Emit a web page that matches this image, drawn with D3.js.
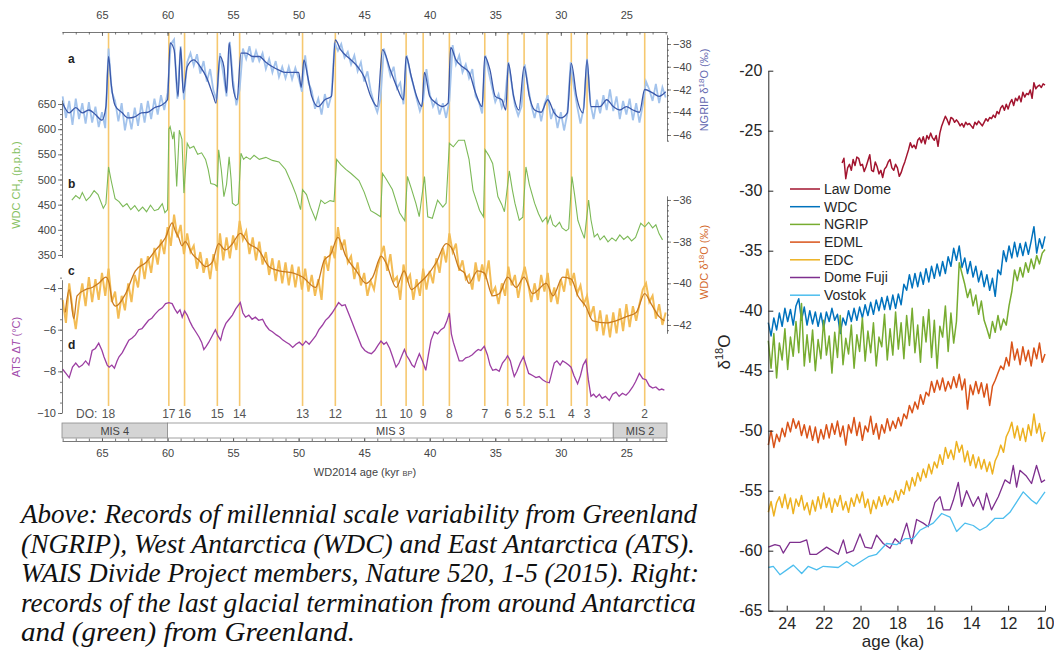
<!DOCTYPE html>
<html>
<head>
<meta charset="utf-8">
<script src="https://cdnjs.cloudflare.com/ajax/libs/d3/7.8.5/d3.min.js"></script>
<style>
  body { margin: 0; background: #fff; }
  svg { display: block; }
  .laxis path, .laxis line { stroke: #555; stroke-width: 0.8; }
  .laxis text { fill: #444; font-size: 11px; }
  .raxis path, .raxis line { stroke: #262626; stroke-width: 1; }
  .raxis text { fill: #262626; font-size: 16px; }
  .cap { font-family: "Liberation Serif", "Times New Roman", Times, serif; font-style: italic; }
</style>
</head>
<body>
<script>
// ---- left panel: WAIS Divide figure (ages in kyr BP) ----
var doLabels = ["18","17","16","15","14","13","12","11","10","9","8","7","6","5.2","5.1","4","3","2"];
var doAges = [64.5,59.9,58.7,56.2,54.5,49.7,47.2,43.7,41.8,40.5,38.5,35.8,34.05,32.8,31.05,29.2,28.0,23.6];
var misNames = ["MIS 4","MIS 3","MIS 2"];
var misBounds = [68.05,60,26,21.9];

var ngripAge = [68.0,67.5,67.0,66.5,66.0,65.5,65.0,64.7,64.5,64.3,64.0,63.5,63.0,62.5,62.0,61.5,61.0,60.5,60.0,59.8,59.5,59.2,59.0,58.8,58.5,58.0,57.5,57.0,56.5,56.3,56.0,55.7,55.5,55.3,55.0,54.7,54.4,54.0,53.5,53.0,52.5,52.0,51.5,51.0,50.5,50.0,49.8,49.6,49.3,49.0,48.5,48.0,47.5,47.2,46.8,46.0,45.5,45.0,44.5,44.0,43.6,43.0,42.5,42.0,41.8,41.4,41.0,40.6,40.4,40.0,39.5,39.0,38.6,38.4,38.0,37.5,37.0,36.5,36.0,35.8,35.4,35.0,34.5,34.2,34.0,33.6,33.2,32.8,32.4,32.0,31.5,31.0,30.5,30.0,29.5,29.2,28.8,28.3,28.0,27.7,27.0,26.5,26.0,25.5,25.0,24.5,24.0,23.6,23.0,22.5,22.0];
var ngripVal = [-43.2,-44.05,-43.6,-44.05,-43.8,-44.2,-44.7,-43.5,-39.1,-41.5,-43.4,-44.0,-44.5,-44.4,-44.05,-44.0,-43.6,-43.4,-42.9,-37.9,-38.5,-42.6,-38.3,-42.3,-40.0,-39.4,-40.0,-41.0,-42.6,-43.2,-39.1,-40.0,-42.3,-37.9,-41.8,-42.9,-38.8,-38.8,-39.1,-39.1,-39.6,-40.0,-40.3,-40.5,-40.5,-40.5,-41.8,-39.4,-40.9,-42.6,-43.5,-42.9,-42.6,-37.65,-38.5,-39.4,-40.0,-40.9,-42.6,-43.5,-38.5,-40.3,-41.8,-42.9,-39.1,-40.9,-42.6,-43.5,-40.5,-42.6,-43.2,-43.5,-43.2,-38.3,-39.4,-40.0,-40.5,-42.3,-43.5,-39.1,-40.3,-42.6,-42.9,-43.8,-39.7,-42.6,-43.8,-40.0,-42.6,-43.8,-44.0,-42.9,-44.05,-44.5,-44.05,-39.7,-42.6,-44.05,-39.4,-43.5,-43.5,-42.9,-43.5,-43.8,-43.5,-43.8,-44.0,-42.0,-42.3,-42.6,-42.2];
// raw NGRIP, every 0.25 kyr from 68.0
var ngripRawStart = 68.0, ngripRawStep = 0.25;
var ngripRaw = [-42.6,-44.5,-43.0,-45.1,-42.8,-44.6,-43.2,-45.0,-43.1,-44.9,-43.5,-45.3,-44.0,-45.4,-38.4,-42.2,
  -43.0,-44.8,-43.2,-45.6,-44.0,-45.5,-43.6,-45.2,-43.2,-44.9,-43.0,-44.6,-42.8,-44.2,-42.5,-43.8,
  -42.3,-38.0,-37.6,-42.8,-38.2,-42.9,-39.6,-38.8,-39.9,-38.9,-40.6,-39.5,-41.3,-40.2,-42.1,-42.9,
  -38.8,-40.6,-42.6,-37.8,-41.2,-43.4,-42.0,-38.4,-39.3,-38.2,-39.6,-38.6,-39.5,-38.8,-40.2,-39.3,
  -40.5,-39.5,-40.9,-40.0,-41.0,-40.0,-41.1,-40.1,-41.0,-42.2,-39.0,-41.4,-42.1,-43.7,-42.8,-44.2,
  -42.4,-43.6,-42.5,-37.9,-38.6,-38.0,-39.2,-38.7,-39.8,-39.0,-40.4,-39.6,-41.3,-40.4,-42.1,-43.2,
  -44.0,-42.8,-38.4,-39.5,-40.8,-40.0,-41.9,-41.4,-43.3,-39.0,-40.5,-41.6,-42.8,-43.9,-43.0,-40.2,
  -42.4,-43.5,-42.9,-44.2,-43.2,-44.5,-43.0,-38.1,-39.8,-39.0,-40.5,-39.8,-41.0,-40.2,-42.6,-43.1,
  -44.1,-39.0,-40.5,-41.8,-43.1,-42.4,-43.6,-42.8,-39.6,-41.5,-43.4,-44.3,-43.5,-39.8,-41.7,-43.4,
  -44.5,-43.2,-44.8,-43.3,-42.5,-44.6,-43.7,-45.4,-44.0,-45.6,-44.1,-39.6,-41.8,-43.5,-45.0,-43.6,
  -39.3,-43.2,-44.6,-42.9,-44.1,-42.5,-43.8,-42.0,-43.9,-42.6,-44.6,-43.0,-44.2,-42.8,-44.7,-43.2,
  -44.9,-43.4,-41.3,-42.0,-43.0,-41.5,-43.2,-41.8,-42.7];

var ch4Age = [67.3,67.0,66.7,66.5,66.2,65.9,65.6,65.3,64.9,64.7,64.5,64.3,64.0,63.7,63.4,63.1,62.8,62.5,62.2,61.9,61.6,61.3,61.0,60.7,60.4,60.2,60.0,59.9,59.8,59.6,59.5,59.3,59.1,58.9,58.75,58.5,58.3,58.0,57.7,57.4,57.1,56.9,56.7,56.4,56.2,56.1,55.9,55.7,55.5,55.3,55.15,55.05,54.8,54.6,54.4,54.2,54.0,53.7,53.4,53.0,52.5,52.0,51.5,51.0,50.5,50.2,49.85,49.7,49.4,49.1,48.7,48.3,48.0,47.6,47.3,47.1,46.8,46.4,46.0,45.4,45.0,44.5,44.1,43.75,43.6,43.3,42.85,42.55,42.3,41.9,41.7,41.4,41.05,40.8,40.4,40.15,39.8,39.4,39.0,38.75,38.5,38.2,37.8,37.35,37.0,36.7,36.4,36.2,35.9,35.77,35.5,35.2,34.8,34.5,34.3,33.93,33.7,33.5,33.17,32.9,32.66,32.4,32.0,31.7,31.4,31.1,31.0,30.8,30.6,30.4,30.1,29.9,29.6,29.4,29.15,28.95,28.7,28.45,28.2,27.88,27.7,27.45,27.2,27.0,26.7,26.4,26.1,25.8,25.5,25.2,24.9,24.6,24.3,23.9,23.6,23.3,23.0,22.75,22.5,22.24];
var ch4Val = [459,468,462,474,458,466,478,470,443,452,525,498,462,456,446,452,440,448,437,445,436,449,438,441,452,434,440,600,605,580,595,486,598,580,473,572,562,566,550,553,540,520,492,490,486,559,520,466,490,545,500,453,448,452,552,540,545,540,548,540,544,538,535,520,490,470,440,480,470,445,420,459,452,458,456,540,530,520,512,498,475,438,432,426,512,500,480,455,434,418,506,482,452,426,506,426,423,459,445,453,572,565,578,578,540,479,455,439,426,559,548,532,466,450,436,517,480,453,419,425,525,490,453,432,416,425,413,428,410,406,415,404,398,402,506,470,419,400,383,459,420,386,392,380,388,376,384,378,390,381,387,378,385,413,406,415,404,410,392,380];

var wdcAge = [67.8,67.5,67.15,66.9,66.25,65.75,65.25,64.7,64.45,64.2,63.95,63.2,62.45,61.65,60.9,60.15,59.65,59.4,59.15,58.9,58.65,58.1,57.6,57.1,56.6,56.1,55.6,55.05,54.45,53.8,53.05,52.25,51.5,50.45,49.7,48.7,48.05,47.55,47.0,46.4,45.6,44.85,44.35,43.7,43.35,42.55,41.95,41.4,40.8,40.3,39.5,38.75,38.25,37.75,37.35,37.0,36.35,35.85,35.2,34.7,34.05,33.4,32.8,32.15,31.1,30.6,29.85,29.2,28.7,28.1,27.55,26.55,25.8,25.0,24.25,23.6,23.1,22.5,22.1];
var wdcVal = [-41.4,-40.3,-41.7,-40.6,-40.3,-40.2,-40.0,-39.7,-40.0,-40.9,-41.1,-40.5,-39.4,-39.0,-38.4,-37.8,-37.1,-37.5,-37.8,-38.2,-38.0,-38.6,-38.9,-39.2,-39.0,-38.1,-38.4,-38.1,-37.6,-38.1,-38.4,-39.2,-39.4,-39.5,-39.7,-40.2,-38.9,-38.6,-37.8,-38.7,-39.4,-40.0,-39.7,-38.7,-39.0,-40.2,-39.4,-40.3,-40.0,-39.7,-39.0,-38.1,-38.4,-39.3,-39.5,-40.0,-39.4,-39.5,-40.6,-40.5,-39.7,-40.2,-39.7,-40.5,-40.0,-40.6,-39.7,-39.8,-40.6,-41.1,-41.8,-41.9,-41.8,-41.6,-41.4,-40.5,-41.0,-41.6,-41.8];
// raw WDC d18O, every 0.25 kyr from 68.0
var wdcRawStart = 68.0, wdcRawStep = 0.25;
var wdcRaw = [-40.8,-41.9,-40.0,-41.2,-42.2,-40.9,-40.0,-41.1,-39.7,-40.9,-39.8,-40.8,-39.5,-40.6,-39.3,-40.9,
  -40.4,-41.7,-40.6,-41.3,-40.0,-40.9,-39.6,-40.2,-38.8,-39.8,-38.7,-39.5,-38.3,-39.1,-37.9,-38.6,
  -37.3,-38.2,-36.7,-37.8,-37.2,-38.6,-37.6,-38.5,-38.2,-39.3,-38.5,-39.5,-38.8,-39.8,-38.6,-39.4,
  -37.6,-38.9,-37.8,-38.8,-37.7,-38.4,-37.0,-37.9,-37.5,-38.6,-37.8,-38.9,-38.0,-39.1,-38.5,-39.6,
  -38.8,-39.9,-38.9,-40.0,-39.0,-40.1,-39.1,-40.2,-39.2,-40.3,-39.3,-40.4,-39.6,-40.6,-39.8,-40.8,
  -38.7,-39.4,-38.2,-38.8,-37.3,-38.4,-37.9,-39.0,-38.7,-39.8,-39.0,-40.1,-39.5,-40.6,-39.9,-40.3,
  -39.3,-38.7,-38.2,-39.4,-38.6,-39.9,-39.7,-40.8,-39.1,-39.9,-39.6,-40.8,-39.8,-40.6,-39.3,-40.3,
  -39.4,-40.0,-38.8,-39.5,-38.3,-39.0,-37.6,-38.5,-38.1,-39.4,-38.9,-39.8,-39.6,-40.3,-39.0,-39.9,
  -39.1,-39.8,-38.9,-40.5,-40.2,-41.0,-40.0,-40.6,-39.2,-40.1,-39.6,-40.7,-39.8,-39.2,-40.0,-40.9,
  -40.0,-40.8,-39.6,-40.4,-39.5,-40.9,-40.2,-41.0,-39.8,-40.4,-39.3,-40.1,-39.5,-40.5,-40.1,-41.0,
  -40.6,-41.6,-41.1,-42.3,-41.3,-42.5,-41.5,-42.6,-41.4,-42.4,-41.2,-42.3,-41.0,-42.1,-41.1,-41.8,
  -41.0,-40.3,-40.0,-40.9,-40.6,-41.7,-41.0,-42.0,-41.4];

var atsAge = [68.0,67.75,67.5,67.25,67.0,66.75,66.5,66.25,66.0,65.75,65.5,65.25,65.0,64.85,64.6,64.45,64.25,64.05,63.85,63.7,63.45,63.2,62.95,62.7,62.45,62.2,61.95,61.7,61.45,61.2,60.95,60.65,60.4,60.15,59.9,59.65,59.45,59.25,59.05,58.88,58.7,58.5,58.3,58.1,57.85,57.6,57.4,57.23,57.05,56.85,56.6,56.35,56.15,55.95,55.75,55.55,55.3,55.05,54.8,54.45,54.25,54.05,53.8,53.55,53.3,53.05,52.75,52.5,52.25,52.0,51.7,51.45,51.2,50.95,50.7,50.45,50.2,49.95,49.7,49.45,49.2,48.95,48.7,48.45,48.2,47.95,47.7,47.45,47.2,46.95,46.7,46.45,46.2,45.95,45.7,45.45,45.2,44.95,44.7,44.45,44.2,43.95,43.72,43.5,43.3,43.05,42.83,42.57,42.35,42.1,41.93,41.75,41.55,41.35,41.17,40.98,40.79,40.55,40.3,40.1,39.9,39.65,39.4,39.14,38.9,38.7,38.5,38.35,38.2,38.0,37.75,37.5,37.25,36.99,36.75,36.5,36.3,36.1,35.84,35.6,35.4,35.2,34.95,34.7,34.45,34.2,34.06,33.85,33.7,33.55,33.35,33.1,32.85,32.65,32.45,32.15,31.9,31.65,31.39,31.15,30.88,30.7,30.5,30.3,30.05,29.86,29.6,29.4,29.22,29.0,28.72,28.5,28.3,28.08,27.9,27.7,27.5,27.3,27.06,26.85,26.6,26.3,26.05,25.79,25.55,25.3,25.03,24.8,24.52,24.3,24.01,23.75,23.5,23.25,22.99,22.75,22.5,22.3,22.1];
var atsVal = [-7.9,-8.1,-8.3,-7.8,-7.6,-7.8,-7.7,-7.5,-7.7,-7.0,-6.9,-6.65,-7.0,-7.3,-7.7,-7.8,-7.7,-7.85,-7.5,-7.3,-7.1,-6.8,-6.5,-6.4,-6.25,-6.0,-5.95,-5.75,-5.55,-5.45,-5.25,-5.05,-4.95,-4.75,-4.7,-4.75,-5.0,-5.2,-5.05,-5.4,-5.1,-5.3,-5.6,-5.85,-6.1,-6.35,-6.6,-6.95,-6.8,-6.6,-6.3,-6.0,-6.3,-6.5,-6.0,-5.7,-5.5,-5.3,-5.0,-4.7,-5.2,-5.4,-5.3,-5.5,-5.4,-5.55,-5.5,-5.8,-6.0,-6.1,-6.25,-6.35,-6.5,-6.6,-6.7,-6.85,-6.7,-6.6,-6.75,-6.55,-6.7,-6.5,-6.3,-6.0,-5.8,-5.55,-5.4,-5.2,-4.95,-4.7,-4.85,-4.8,-5.2,-5.6,-6.0,-6.4,-6.8,-7.0,-7.1,-7.15,-7.0,-6.75,-6.55,-6.7,-6.6,-6.9,-7.3,-7.8,-7.6,-7.2,-6.95,-7.25,-7.45,-7.7,-7.8,-7.45,-7.15,-7.5,-7.95,-7.2,-6.5,-6.1,-6.2,-6.0,-5.9,-5.6,-5.2,-6.2,-6.6,-7.0,-7.5,-7.5,-7.35,-7.3,-7.2,-7.05,-6.95,-7.0,-6.8,-7.2,-7.7,-7.95,-7.9,-8.0,-7.6,-7.4,-7.25,-7.5,-7.9,-8.25,-8.0,-7.6,-7.3,-7.7,-8.1,-8.2,-8.3,-8.25,-8.4,-8.5,-8.55,-8.1,-7.6,-7.5,-7.7,-7.5,-7.6,-7.7,-7.8,-8.2,-8.6,-8.2,-7.7,-7.45,-8.4,-9.2,-9.1,-9.25,-9.1,-9.3,-9.2,-9.4,-9.1,-9.0,-9.2,-9.05,-9.15,-9.0,-8.75,-8.5,-8.1,-8.35,-8.4,-8.7,-8.8,-8.75,-8.9,-8.85,-8.9];

// ---- right panel: last glacial termination (ages in ka) ----
var seriesNames = ["Law Dome","WDC","NGRIP","EDML","EDC","Dome Fuji","Vostok"];
var seriesColors = ["#a2142f","#0072bd","#77ac30","#d95319","#edb120","#7e2f8e","#4dbeee"];
var lawStart = 21.0, lawStep = 0.1;
var lawDome = [-27.7,-27.3,-29.0,-28.1,-27.8,-28.3,-27.4,-27.9,-27.2,-27.3,
  -27.9,-27.8,-28.4,-28.0,-27.5,-27.0,-28.3,-28.4,-27.6,-28.0,
  -28.6,-28.3,-28.9,-28.2,-28.0,-27.6,-27.4,-28.1,-28.3,-27.8,
  -28.1,-28.8,-28.5,-28.0,-27.6,-27.1,-26.6,-26.0,-26.4,-26.2,
  -26.5,-25.8,-25.6,-26.0,-25.5,-26.1,-25.4,-25.7,-25.2,-25.6,
  -25.8,-25.4,-26.3,-25.2,-24.6,-24.2,-23.8,-24.1,-24.5,-23.9,
  -24.0,-24.3,-24.1,-24.3,-24.6,-24.4,-24.7,-24.3,-24.5,-24.4,
  -24.6,-24.8,-24.3,-24.5,-24.2,-24.4,-24.6,-24.3,-24.0,-24.2,
  -23.9,-24.0,-23.7,-23.9,-23.4,-23.6,-23.1,-22.9,-23.3,-22.8,
  -23.2,-22.7,-22.4,-22.9,-22.3,-22.5,-22.1,-22.6,-21.8,-22.2,
  -21.9,-22.0,-21.6,-22.3,-21.0,-21.5,-21.3,-21.2,-21.4,-21.1,-21.2];
// WDC, NGRIP, EDML and EDC every 0.15 ka from 25.0
var coreStart = 25.0, coreStep = 0.15;
var wdcR = [-41.0,-42.1,-40.6,-41.6,-40.2,-41.3,-39.8,-40.9,-39.9,-41.2,
  -39.6,-39.0,-40.8,-39.7,-41.2,-40.0,-41.1,-40.1,-41.3,-40.2,
  -41.5,-40.1,-40.9,-39.8,-40.8,-40.3,-41.9,-40.6,-41.2,-40.0,
  -40.9,-39.8,-40.8,-39.7,-40.6,-39.5,-40.4,-39.3,-40.3,-39.1,
  -40.0,-38.9,-39.9,-38.8,-39.9,-38.7,-39.8,-38.6,-39.5,-37.8,
  -38.3,-37.0,-38.1,-36.9,-38.0,-36.8,-37.8,-36.5,-37.6,-36.3,
  -37.3,-36.1,-37.1,-35.9,-36.9,-35.5,-36.3,-34.8,-35.8,-34.6,
  -36.4,-35.6,-36.9,-35.9,-37.2,-36.3,-37.6,-36.7,-38.0,-37.0,
  -38.3,-37.3,-38.8,-36.6,-37.0,-35.0,-35.9,-34.6,-35.6,-34.3,
  -35.5,-34.4,-35.4,-34.3,-35.3,-34.2,-33.0,-35.2,-34.0,-34.8,-33.8];
var ngripR = [-42.5,-44.8,-41.9,-45.6,-42.7,-44.1,-41.5,-44.9,-42.2,-43.8,
  -40.9,-43.5,-39.4,-44.6,-42.0,-44.3,-41.6,-45.0,-42.4,-44.0,
  -40.8,-43.7,-42.1,-45.2,-41.8,-43.9,-40.4,-44.5,-42.3,-43.6,
  -41.2,-44.8,-42.0,-43.4,-40.6,-44.2,-41.7,-43.5,-41.0,-44.6,
  -42.2,-43.0,-40.3,-44.1,-41.5,-43.7,-40.1,-43.2,-41.0,-44.0,
  -40.4,-42.9,-39.8,-43.5,-41.2,-44.3,-40.5,-42.6,-39.9,-43.9,
  -40.8,-44.8,-41.3,-42.2,-39.6,-43.4,-40.2,-42.7,-40.9,-36.0,
  -36.9,-37.8,-38.9,-38.2,-39.6,-38.7,-40.3,-39.2,-40.8,-41.5,
  -42.3,-40.9,-41.8,-40.4,-41.6,-40.7,-41.2,-39.6,-38.4,-36.6,
  -37.5,-36.4,-37.2,-36.0,-36.8,-35.7,-36.5,-35.4,-36.1,-35.2,-34.9];
var edmlR = [-51.2,-50.0,-51.4,-50.3,-50.9,-49.8,-50.5,-49.3,-50.1,-49.0,
  -49.8,-49.2,-50.4,-49.5,-50.6,-49.6,-50.8,-49.7,-51.0,-49.9,
  -50.7,-49.5,-50.6,-49.4,-50.3,-49.2,-50.5,-49.6,-51.2,-49.5,
  -50.2,-48.9,-50.4,-49.3,-50.8,-49.6,-50.1,-48.8,-50.3,-49.4,
  -50.7,-49.5,-50.2,-49.0,-50.0,-49.2,-49.8,-48.9,-49.6,-48.6,
  -49.0,-47.9,-48.5,-47.6,-48.2,-47.0,-47.8,-46.8,-47.1,-45.9,
  -46.8,-45.8,-46.6,-45.6,-46.7,-45.9,-46.5,-45.5,-46.4,-45.3,
  -46.6,-45.7,-48.2,-46.2,-47.0,-45.9,-46.9,-46.0,-47.2,-46.1,
  -47.9,-46.3,-45.8,-45.2,-44.6,-44.9,-43.9,-44.6,-42.6,-44.1,
  -43.2,-44.5,-43.0,-44.2,-43.3,-44.6,-43.1,-44.0,-42.7,-44.3,-43.6];
var edcR = [-56.8,-55.9,-57.1,-56.0,-55.5,-56.4,-55.3,-56.5,-55.6,-56.9,
  -55.7,-56.3,-55.4,-56.6,-56.0,-57.0,-55.8,-56.7,-55.5,-56.5,
  -55.2,-56.4,-55.6,-56.8,-55.7,-56.3,-55.4,-56.6,-55.9,-56.8,
  -55.6,-56.3,-55.3,-56.0,-55.1,-56.4,-55.7,-56.9,-55.8,-56.5,
  -55.5,-56.3,-55.4,-56.2,-55.6,-56.0,-55.0,-55.8,-54.9,-55.3,
  -54.2,-55.0,-53.9,-54.6,-53.5,-54.2,-53.2,-53.9,-52.8,-53.6,
  -52.6,-53.1,-52.0,-52.8,-51.4,-52.3,-51.6,-52.4,-50.9,-51.8,
  -51.2,-52.6,-51.7,-52.9,-52.0,-53.1,-52.2,-53.2,-52.4,-53.4,
  -52.6,-53.6,-52.5,-52.0,-51.2,-51.8,-50.5,-50.0,-49.3,-50.6,
  -49.6,-50.8,-49.8,-50.9,-49.5,-50.4,-48.6,-50.2,-49.4,-50.9,-50.1];
var dfAge = [25.0,24.64,24.37,24.19,23.83,23.28,22.92,22.74,22.38,21.84,21.21,20.93,20.75,20.39,20.03,19.76,19.4,19.13,18.77,18.4,18.13,17.86,17.5,17.23,16.96,16.6,16.33,15.97,15.69,15.51,15.15,14.97,14.7,14.52,14.25,13.89,13.62,13.35,13.17,12.9,12.53,12.17,11.9,11.72,11.54,11.36,11.0,10.73,10.46,10.19,10.0];
var dfVal = [-59.7,-59.5,-59.6,-60.2,-59.3,-59.3,-59.1,-60.3,-60.3,-59.7,-60.3,-59.1,-60.2,-60.0,-58.6,-59.7,-59.8,-58.7,-59.4,-59.8,-59.0,-59.4,-57.7,-59.4,-57.4,-57.7,-58.0,-56.0,-55.5,-56.6,-56.6,-55.8,-54.3,-56.3,-55.0,-56.3,-55.5,-56.6,-55.2,-56.6,-55.5,-54.1,-54.4,-52.9,-54.7,-53.3,-53.8,-54.4,-52.9,-54.3,-54.1];
var vkAge = [25.0,24.73,24.37,24.0,23.64,23.19,22.83,22.38,22.02,21.21,20.75,20.39,19.58,19.13,18.59,18.04,17.59,17.14,16.78,16.06,15.6,15.15,14.79,14.34,13.89,13.53,13.17,12.71,12.26,11.9,11.18,10.73,10.46,10.0];
var vkVal = [-61.4,-61.3,-62.0,-61.6,-61.2,-61.9,-61.3,-61.6,-61.3,-61.4,-60.9,-61.3,-60.5,-60.3,-59.4,-59.5,-59.0,-59.0,-58.3,-57.7,-56.9,-57.2,-58.4,-57.7,-57.9,-58.3,-58.0,-57.3,-57.3,-56.8,-55.1,-55.8,-56.1,-55.1];

var captionLines = [
  "Above: Records of millennial scale variability from Greenland",
  "(NGRIP), West Antarctica (WDC) and East Antarctica (ATS).",
  "WAIS Divide Project members, Nature 520, 1-5 (2015). Right:",
  "records of the last glacial termination from around Antarctica",
  "and (green) from Greenland."];
var captionWidths = [676, 674, 678, 675, 334];

function zipped(ages, vals) { return d3.zip(ages, vals).map(function(p) { return {a: p[0], v: p[1]}; }); }
function stepped(start, step, vals) { return vals.map(function(v, i) { return {a: start - i * step, v: v}; }); }

var svg = d3.select("body").append("svg")
  .attr("width", 1054).attr("height", 650)
  .style("font-family", "'Liberation Sans', Arial, Helvetica, sans-serif");

// ================= left panel =================
var xAge = d3.scaleLinear().domain([68.05, 21.9]).range([62, 667]);
var yNgrip = d3.scaleLinear().domain([-37.2, -46.5]).range([34.9, 140.7]);
var yCh4 = d3.scaleLinear().domain([658, 345]).range([100, 257.5]);
var yWdc = d3.scaleLinear().domain([-35.8, -42.4]).range([195.8, 333.3]);
var yAts = d3.scaleLinear().domain([-3.6, -10]).range([279.7, 413]);

var left = svg.append("g");

left.append("g").selectAll("line").data(doAges).join("line")
  .attr("x1", function(d) { return xAge(d); }).attr("x2", function(d) { return xAge(d); })
  .attr("y1", 33).attr("y2", 406)
  .attr("stroke", "#f6c86f").attr("stroke-width", 1.6);

function lineOn(x, y) {
  return d3.line().x(function(d) { return x(d.a); }).y(function(d) { return y(d.v); });
}
var ngLine = lineOn(xAge, yNgrip), chLine = lineOn(xAge, yCh4), wdLine = lineOn(xAge, yWdc), atLine = lineOn(xAge, yAts);

left.append("path").datum(stepped(ngripRawStart, ngripRawStep, ngripRaw))
  .attr("d", ngLine).attr("fill", "none").attr("stroke", "#a3c3ec").attr("stroke-width", 1.8);
left.append("path").datum(zipped(ngripAge, ngripVal))
  .attr("d", ngLine.curve(d3.curveMonotoneX)).attr("fill", "none").attr("stroke", "#3a58aa").attr("stroke-width", 1.3);
left.append("path").datum(zipped(ch4Age, ch4Val))
  .attr("d", chLine).attr("fill", "none").attr("stroke", "#7cb957").attr("stroke-width", 1.1);
left.append("path").datum(stepped(wdcRawStart, wdcRawStep, wdcRaw))
  .attr("d", wdLine).attr("fill", "none").attr("stroke", "#f3bc55").attr("stroke-width", 2);
left.append("path").datum(zipped(wdcAge, wdcVal))
  .attr("d", wdLine.curve(d3.curveMonotoneX)).attr("fill", "none").attr("stroke", "#c97a1e").attr("stroke-width", 1.3);
left.append("path").datum(zipped(atsAge, atsVal))
  .attr("d", atLine).attr("fill", "none").attr("stroke", "#9c3ea2").attr("stroke-width", 1.3);

function minorAxis(axis, tx, ty) {
  var g = left.append("g").attr("class", "laxis").attr("transform", "translate(" + tx + "," + ty + ")").call(axis);
  g.select(".domain").remove();
  return g;
}
function fmt(d) { return (d < 0 ? "\u2212" : "") + Math.abs(d); }

// top axis
left.append("g").attr("class", "laxis").attr("transform", "translate(0,32)")
  .call(d3.axisTop(xAge).tickValues(d3.range(65, 24, -5)).tickSize(-4).tickSizeOuter(0).tickPadding(13).tickFormat(fmt));
minorAxis(d3.axisTop(xAge).tickValues(d3.range(68, 21, -1)).tickSize(-2.5).tickFormat(""), 0, 32);
// bottom axis
left.append("g").attr("class", "laxis").attr("transform", "translate(0,441)")
  .call(d3.axisBottom(xAge).tickValues(d3.range(65, 24, -5)).tickSize(-4).tickSizeOuter(0).tickPadding(8).tickFormat(fmt));
minorAxis(d3.axisBottom(xAge).tickValues(d3.range(68, 21, -1)).tickSize(-2.5).tickFormat(""), 0, 441);

// left y axes
left.append("g").attr("class", "laxis").attr("transform", "translate(62,0)")
  .call(d3.axisLeft(yCh4).tickValues(d3.range(650, 349, -50)).tickSize(4).tickSizeOuter(0).tickPadding(2).tickFormat(fmt));
minorAxis(d3.axisLeft(yCh4).tickValues(d3.range(650, 349, -10)).tickSize(2).tickFormat(""), 62, 0);
left.append("g").attr("class", "laxis").attr("transform", "translate(62,0)")
  .call(d3.axisLeft(yAts).tickValues([-4, -6, -8, -10]).tickSize(4).tickSizeOuter(0).tickPadding(2).tickFormat(fmt));
minorAxis(d3.axisLeft(yAts).tickValues(d3.range(-3.5, -10.1, -0.5)).tickSize(2).tickFormat(""), 62, 0);
// right y axes
left.append("g").attr("class", "laxis").attr("transform", "translate(667,0)")
  .call(d3.axisRight(yNgrip).tickValues([-38, -40, -42, -44, -46]).tickSize(4).tickSizeOuter(0).tickPadding(2).tickFormat(fmt));
minorAxis(d3.axisRight(yNgrip).tickValues(d3.range(-37.5, -46.6, -0.5)).tickSize(2).tickFormat(""), 667, 0);
left.append("g").attr("class", "laxis").attr("transform", "translate(667,0)")
  .call(d3.axisRight(yWdc).tickValues([-36, -38, -40, -42]).tickSize(4).tickSizeOuter(0).tickPadding(2).tickFormat(fmt));
minorAxis(d3.axisRight(yWdc).tickValues(d3.range(-36, -42.4, -0.25)).tickSize(2).tickFormat(""), 667, 0);

// axis titles
function vTitle(x, y, color, build) {
  var t = left.append("text").attr("transform", "translate(" + x + "," + y + ") rotate(-90)")
    .attr("text-anchor", "middle").attr("fill", color).attr("font-size", 11);
  build(t);
}
vTitle(20, 185, "#86bf5f", function(t) {
  t.append("tspan").text("WDC CH");
  t.append("tspan").attr("font-size", 8).attr("dy", 3).text("4");
  t.append("tspan").attr("dy", -3).text(" (p.p.b.)");
});
vTitle(20, 347, "#a24cab", function(t) {
  t.append("tspan").text("ATS \u0394");
  t.append("tspan").attr("font-style", "italic").text("T");
  t.append("tspan").text(" (\u00b0C)");
});
vTitle(708, 90, "#6468b0", function(t) {
  t.append("tspan").text("NGRIP \u03b4");
  t.append("tspan").attr("font-size", 8).attr("dy", -4).text("18");
  t.append("tspan").attr("dy", 4).text("O (\u2030)");
});
vTitle(708, 262, "#d4692c", function(t) {
  t.append("tspan").text("WDC \u03b4");
  t.append("tspan").attr("font-size", 8).attr("dy", -4).text("18");
  t.append("tspan").attr("dy", 4).text("O (\u2030)");
});

// panel letters
left.selectAll("text.panel").data([["a", 63], ["b", 188], ["c", 275], ["d", 349]]).join("text")
  .attr("class", "panel").attr("x", 68).attr("y", function(d) { return d[1]; })
  .attr("font-size", 12).attr("font-weight", "bold").attr("fill", "#222").text(function(d) { return d[0]; });

// DO labels
left.append("text").attr("x", 76).attr("y", 418).attr("font-size", 12).attr("fill", "#555").text("DO:");
left.selectAll("text.do").data(doLabels).join("text").attr("class", "do")
  .attr("x", function(d, i) { return xAge(doAges[i]); }).attr("y", 418)
  .attr("text-anchor", "middle").attr("font-size", 12).attr("fill", "#555").text(function(d) { return d; });

// MIS bar
var misData = misNames.map(function(n, i) { return {name: n, a0: misBounds[i], a1: misBounds[i + 1], gray: i != 1}; });
left.selectAll("rect.mis").data(misData).join("rect").attr("class", "mis")
  .attr("x", function(d) { return xAge(d.a0); }).attr("width", function(d) { return xAge(d.a1) - xAge(d.a0); })
  .attr("y", 423).attr("height", 15)
  .attr("fill", function(d) { return d.gray ? "#d4d4d4" : "#fff"; }).attr("stroke", "#8a8a8a").attr("stroke-width", 0.8);
left.selectAll("text.mis").data(misData).join("text").attr("class", "mis")
  .attr("x", function(d) { return (xAge(d.a0) + xAge(d.a1)) / 2; }).attr("y", 434.5)
  .attr("text-anchor", "middle").attr("font-size", 11).attr("fill", "#444").text(function(d) { return d.name; });

var xt = left.append("text").attr("x", 365).attr("y", 476).attr("text-anchor", "middle").attr("font-size", 11).attr("fill", "#444");
xt.append("tspan").text("WD2014 age (kyr ");
xt.append("tspan").attr("font-size", 7.5).text("BP");
xt.append("tspan").text(")");

// ================= right panel =================
var xKa = d3.scaleLinear().domain([25, 10]).range([768.3, 1045]);
var yD = d3.scaleLinear().domain([-20, -65]).range([70.7, 610.7]);
var right = svg.append("g");
var rLine = d3.line().x(function(d) { return xKa(d.a); }).y(function(d) { return yD(d.v); });

var rightSeries = [
  stepped(lawStart, lawStep, lawDome),
  stepped(coreStart, coreStep, wdcR),
  stepped(coreStart, coreStep, ngripR),
  stepped(coreStart, coreStep, edmlR),
  stepped(coreStart, coreStep, edcR),
  zipped(dfAge, dfVal),
  zipped(vkAge, vkVal)];
right.selectAll("path.rs").data(rightSeries).join("path").attr("class", "rs")
  .attr("d", rLine).attr("fill", "none")
  .attr("stroke", function(d, i) { return seriesColors[i]; })
  .attr("stroke-width", function(d, i) { return i >= 5 ? 1.3 : 1.5; })
  .attr("stroke-linejoin", "round");

right.append("g").attr("class", "raxis").attr("transform", "translate(768.3,0)")
  .call(d3.axisLeft(yD).tickValues(d3.range(-20, -66, -5)).tickSize(-5).tickSizeOuter(0).tickPadding(6).tickFormat(function(d) { return String(d); }));
right.append("g").attr("class", "raxis").attr("transform", "translate(0,610.7)")
  .call(d3.axisBottom(xKa).tickValues(d3.range(24, 9, -2)).tickSize(-5).tickSizeOuter(0).tickPadding(7).tickFormat(function(d) { return String(d); }));

var yt = right.append("text").attr("transform", "translate(730,352) rotate(-90)")
  .attr("text-anchor", "middle").attr("font-size", 17).attr("fill", "#262626");
yt.append("tspan").text("\u03b4");
yt.append("tspan").attr("font-size", 11).attr("dy", -7).text("18");
yt.append("tspan").attr("dy", 7).text("O");
right.append("text").attr("x", 893).attr("y", 647).attr("text-anchor", "middle")
  .attr("font-size", 17).attr("fill", "#262626").text("age (ka)");

var legend = right.selectAll("g.leg").data(seriesNames).join("g").attr("class", "leg")
  .attr("transform", function(d, i) { return "translate(790," + (189 + i * 17.7) + ")"; });
legend.append("line").attr("x1", 0).attr("x2", 30).attr("stroke-width", 1.5)
  .attr("stroke", function(d, i) { return seriesColors[i]; });
legend.append("text").attr("x", 34).attr("dy", "0.35em").attr("font-size", 14).attr("fill", "#262626")
  .text(function(d) { return d; });

// ================= caption =================
svg.selectAll("text.cap").data(captionLines).join("text").attr("class", "cap")
  .attr("x", 21).attr("y", function(d, i) { return 523 + i * 29.5; })
  .attr("font-size", 27).attr("fill", "#111")
  .attr("textLength", function(d, i) { return captionWidths[i]; }).attr("lengthAdjust", "spacingAndGlyphs")
  .text(function(d) { return d; });
</script>
</body>
</html>
